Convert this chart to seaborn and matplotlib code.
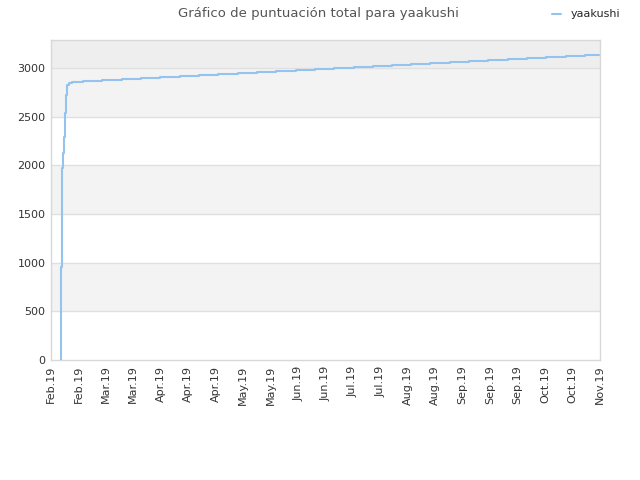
import numpy as np
import pandas as pd
import matplotlib
matplotlib.use("Agg")
import matplotlib.pyplot as plt
import seaborn as sns

# data (day offset from first tick, total score)
days = [5.0, 5.1, 5.6, 6.1, 6.6, 7.1, 7.7, 8.2, 9.2, 10.7,
        16.3, 26.0, 36.2, 45.9, 55.6, 65.8, 75.5, 85.2, 95.4, 105.1,
        114.8, 125.0, 134.6, 144.3, 154.5, 164.2, 173.9, 183.6, 193.3, 203.5,
        213.2, 222.9, 233.1, 242.8, 252.5, 262.7, 272.4, 279.5]
scores = [0, 960, 1970, 2127, 2291, 2538, 2723, 2825, 2850, 2859,
          2870, 2880, 2890, 2901, 2911, 2921, 2932, 2942, 2952, 2962,
          2973, 2983, 2993, 3003, 3014, 3024, 3034, 3044, 3055, 3065,
          3075, 3085, 3096, 3106, 3116, 3126, 3137, 3137]

tick_labels = ["Feb.19", "Feb.19", "Mar.19", "Mar.19", "Apr.19", "Apr.19", "Apr.19",
               "May.19", "May.19", "Jun.19", "Jun.19", "Jul.19", "Jul.19", "Aug.19",
               "Aug.19", "Sep.19", "Sep.19", "Sep.19", "Oct.19", "Oct.19", "Nov.19"]
tick_days = [14 * i for i in range(len(tick_labels))]
y_ticks = [0, 500, 1000, 1500, 2000, 2500, 3000]

player = "yaakushi"
df = pd.DataFrame({"day": days, "score": scores})

sns.set_theme(style="white")
plt.rcParams["font.family"] = ["DejaVu Sans"]

fig = plt.figure(figsize=(6.4, 4.8), dpi=100)
ax = fig.add_axes([51 / 640, 120 / 480, 549 / 640, 320 / 480])

# alternating horizontal bands
for lo in [500, 1500, 2500]:
    ax.axhspan(lo, lo + 500, color="#f3f3f3", zorder=0, lw=0)
ax.axhspan(3000, 3290, color="#eeeeee", zorder=0, lw=0)
for y in y_ticks[1:]:
    ax.axhline(y, color="#e0e0e0", lw=1, zorder=1)

sns.lineplot(data=df, x="day", y="score", ax=ax, estimator=None, sort=True,
             drawstyle="steps-post", color="#94c3ef", lw=1.5, label=player,
             legend=False, zorder=3)

ax.set_xlim(0, 280)
ax.set_ylim(0, 3290)
ax.set_xticks(tick_days)
ax.set_xticklabels(tick_labels, rotation=90, fontsize=8, color="#333333")
ax.set_yticks(y_ticks)
ax.set_yticklabels([str(v) for v in y_ticks], fontsize=8, color="#333333")
ax.tick_params(axis="both", length=0, pad=4)
ax.set_xlabel("")
ax.set_ylabel("")
for s in ax.spines.values():
    s.set_color("#d8d8d8")
    s.set_linewidth(1)

fig.text(0.497, 0.972, "Gráfico de puntuación total para yaakushi",
         ha="center", va="center", fontsize=9.5, color="#555555")
fig.legend(handles=ax.get_lines()[-1:], labels=[player], loc="center right",
           bbox_to_anchor=(0.985, 0.97), frameon=False, fontsize=8,
           handlelength=0.8, handletextpad=0.9)

fig.savefig("out.png", dpi=100)
